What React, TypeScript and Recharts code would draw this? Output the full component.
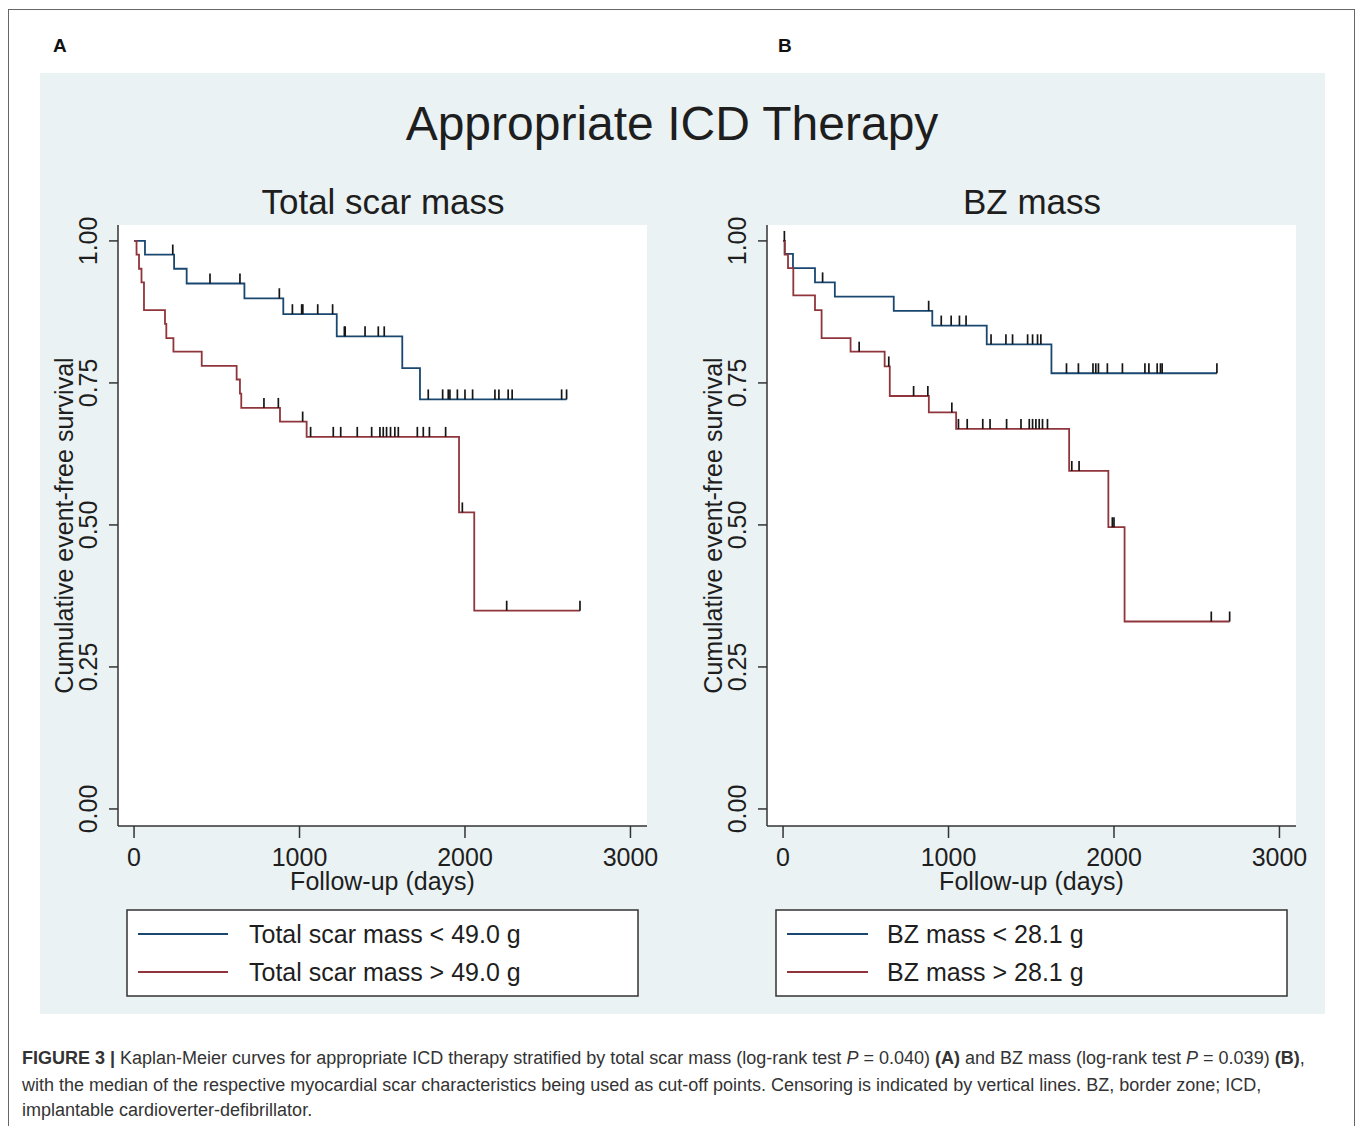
import React from "react";
import { ComposedChart, Line, Scatter, XAxis, YAxis, CartesianGrid } from "recharts";

const FONT = '"Liberation Sans", Arial, Helvetica, sans-serif';
const NAVY = "#1a476f";
const MAROON = "#90353b";
const INK = "#1e1e1e";

const xTicks = [0, 1000, 2000, 3000];
const yTicks = [0, 0.25, 0.5, 0.75, 1];

// Panel A - total scar mass
const scarLowTimes = [0, 66, 242, 318, 667, 902, 1225, 1621, 1728];
const scarLowSurv = [1.0, 0.976, 0.951, 0.925, 0.899, 0.871, 0.832, 0.776, 0.721];
const scarLowCensor = [234, 459, 640, 878, 957, 1013, 1020, 1110, 1200, 1271, 1276, 1396, 1476, 1512, 1778, 1865, 1899, 1909, 1954, 2000, 2046, 2181, 2205, 2261, 2285, 2584, 2614];

const scarHighTimes = [0, 15, 30, 45, 60, 187, 195, 238, 409, 620, 640, 648, 882, 1043, 1964, 2056];
const scarHighSurv = [1.0, 0.976, 0.951, 0.927, 0.878, 0.854, 0.829, 0.805, 0.78, 0.756, 0.731, 0.706, 0.682, 0.655, 0.522, 0.349];
const scarHighCensor = [785, 872, 1019, 1067, 1204, 1249, 1349, 1436, 1486, 1506, 1526, 1550, 1576, 1597, 1712, 1748, 1785, 1883, 1984, 2252, 2695];

// Panel B - BZ mass
const bzLowTimes = [0, 10, 60, 193, 313, 669, 902, 1231, 1622];
const bzLowSurv = [1.0, 0.977, 0.952, 0.927, 0.902, 0.877, 0.851, 0.818, 0.767];
const bzLowCensor = [8, 239, 880, 956, 1016, 1066, 1106, 1257, 1347, 1387, 1478, 1508, 1538, 1558, 1713, 1785, 1873, 1890, 1906, 1960, 2051, 2187, 2211, 2261, 2281, 2291, 2622];

const bzHighTimes = [0, 10, 30, 62, 193, 233, 408, 614, 645, 881, 1046, 1729, 1966, 2064];
const bzHighSurv = [1.0, 0.976, 0.952, 0.904, 0.878, 0.829, 0.805, 0.779, 0.727, 0.698, 0.669, 0.595, 0.496, 0.33];
const bzHighCensor = [460, 639, 789, 875, 1020, 1060, 1113, 1207, 1251, 1351, 1438, 1488, 1508, 1528, 1548, 1568, 1598, 1745, 1789, 1990, 2000, 2588, 2699];

// KM estimate at time t (value of the step function)
function survAt(times: number[], surv: number[], t: number) {
  let s = surv[0];
  for (let i = 0; i < times.length; i++) if (times[i] <= t) s = surv[i];
  return s;
}

function stepData(times: number[], surv: number[], censor: number[]) {
  const pts = times.map((t, i) => ({ t, s: surv[i] }));
  const end = Math.max(times[times.length - 1], ...censor);
  pts.push({ t: end, s: surv[surv.length - 1] });
  return pts;
}

function censorData(times: number[], surv: number[], censor: number[]) {
  return censor.map((t) => ({ t, s: survAt(times, surv, t) }));
}

const CensorMark = (props: any) => {
  const { cx, cy } = props;
  if (cx == null || cy == null) return null;
  return <line x1={cx} x2={cx} y1={cy} y2={cy - 10} stroke="#161616" strokeWidth={1.7} />;
};

const YTick = ({ x, y, payload }: any) => (
  <text
    x={x}
    y={y}
    transform={`rotate(-90 ${x} ${y})`}
    textAnchor="middle"
    dominantBaseline="central"
    fontSize={25}
    fontFamily={FONT}
    fill={INK}
  >
    {Number(payload.value).toFixed(2)}
  </text>
);

const YTitle = (props: any) => {
  const vb = props.viewBox || {};
  const x = vb.x + 24;
  const y = vb.y + vb.height / 2;
  return (
    <text
      x={x}
      y={y}
      transform={`rotate(-90 ${x} ${y})`}
      textAnchor="middle"
      dominantBaseline="central"
      fontSize={25}
      fontFamily={FONT}
      fill={INK}
    >
      Cumulative event-free survival
    </text>
  );
};

interface KMProps {
  left: number;
  lowTimes: number[];
  lowSurv: number[];
  lowCensor: number[];
  highTimes: number[];
  highSurv: number[];
  highCensor: number[];
}

function KMPanel(p: KMProps) {
  const low = stepData(p.lowTimes, p.lowSurv, p.lowCensor);
  const high = stepData(p.highTimes, p.highSurv, p.highCensor);
  const lowC = censorData(p.lowTimes, p.lowSurv, p.lowCensor);
  const highC = censorData(p.highTimes, p.highSurv, p.highCensor);
  return (
    <div style={{ position: "absolute", left: p.left, top: 160 }}>
      <ComposedChart width={640} height={740} margin={{ top: 65, right: 33, left: 0, bottom: 0 }}>
        <CartesianGrid horizontal={false} vertical={false} fill="#ffffff" />
        <XAxis
          dataKey="t"
          type="number"
          domain={[-97, 3100]}
          ticks={xTicks}
          allowDataOverflow
          height={74}
          tickSize={12}
          tickMargin={10}
          axisLine={{ stroke: "#333", strokeWidth: 1.5 }}
          tickLine={{ stroke: "#333", strokeWidth: 1.5 }}
          tick={{ fontSize: 25, fontFamily: FONT, fill: INK }}
          label={{ value: "Follow-up (days)", position: "insideBottom", offset: 10, fontSize: 25, fontFamily: FONT, fill: INK }}
        />
        <YAxis
          dataKey="s"
          type="number"
          domain={[-0.03, 1.028]}
          ticks={yTicks}
          allowDataOverflow
          width={78}
          tickSize={9}
          tickMargin={21}
          axisLine={{ stroke: "#333", strokeWidth: 1.5 }}
          tickLine={{ stroke: "#333", strokeWidth: 1.5 }}
          tick={<YTick />}
          label={<YTitle />}
        />
        <Line data={low} dataKey="s" type="stepAfter" stroke={NAVY} strokeWidth={1.8} dot={false} isAnimationActive={false} />
        <Line data={high} dataKey="s" type="stepAfter" stroke={MAROON} strokeWidth={1.8} dot={false} isAnimationActive={false} />
        <Scatter data={lowC} shape={(s: any) => <CensorMark {...s} />} isAnimationActive={false} />
        <Scatter data={highC} shape={(s: any) => <CensorMark {...s} />} isAnimationActive={false} />
      </ComposedChart>
    </div>
  );
}

function KMLegend({ left, lineLen, textX, labels }: { left: number; lineLen: number; textX: number; labels: string[] }) {
  return (
    <svg style={{ position: "absolute", left, top: 909 }} width={514} height={88}>
      <rect x={1} y={1} width={511} height={86} fill="#ffffff" stroke="#333" strokeWidth={1.5} />
      <line x1={12} x2={12 + lineLen} y1={25} y2={25} stroke={NAVY} strokeWidth={1.8} />
      <line x1={12} x2={12 + lineLen} y1={63} y2={63} stroke={MAROON} strokeWidth={1.8} />
      <text x={textX} y={34} fontSize={25} fontFamily={FONT} fill={INK}>{labels[0]}</text>
      <text x={textX} y={72} fontSize={25} fontFamily={FONT} fill={INK}>{labels[1]}</text>
    </svg>
  );
}

export default function App() {
  return (
    <div style={{ position: "absolute", left: 0, top: 0, width: 1358, height: 1126, background: "#fff", overflow: "hidden" }}>
      <div style={{ position: "absolute", left: 8, top: 9, width: 1347, height: 1300, border: "1.5px solid #666", boxSizing: "border-box" }} />
      <div style={{ position: "absolute", left: 40, top: 73, width: 1285, height: 941, background: "#eaf2f3" }} />
      <svg style={{ position: "absolute", left: 0, top: 0 }} width={1358} height={1126}>
        <g fontFamily={FONT} fill="#111">
          <text x={53} y={52} fontSize={19} fontWeight="bold">A</text>
          <text x={778} y={52} fontSize={19} fontWeight="bold">B</text>
          <text x={672} y={140} fontSize={48} textAnchor="middle" fill={INK}>Appropriate ICD Therapy</text>
          <text x={383} y={214} fontSize={35} textAnchor="middle" fill={INK}>Total scar mass</text>
          <text x={1032} y={214} fontSize={35} textAnchor="middle" fill={INK}>BZ mass</text>
        </g>
        <g fontFamily={FONT} fontSize={18} fill="#333">
          <text x={22} y={1064}>
            <tspan fontWeight="bold">FIGURE 3 | </tspan>
            Kaplan-Meier curves for appropriate ICD therapy stratified by total scar mass (log-rank test{" "}
            <tspan fontStyle="italic">P</tspan> = 0.040) <tspan fontWeight="bold">(A)</tspan> and BZ mass (log-rank test{" "}
            <tspan fontStyle="italic">P</tspan> = 0.039) <tspan fontWeight="bold">(B)</tspan>,
          </text>
          <text x={22} y={1091}>
            with the median of the respective myocardial scar characteristics being used as cut-off points. Censoring is indicated by vertical lines. BZ, border zone; ICD,
          </text>
          <text x={22} y={1116}>implantable cardioverter-defibrillator.</text>
        </g>
      </svg>
      <KMPanel
        left={40}
        lowTimes={scarLowTimes}
        lowSurv={scarLowSurv}
        lowCensor={scarLowCensor}
        highTimes={scarHighTimes}
        highSurv={scarHighSurv}
        highCensor={scarHighCensor}
      />
      <KMPanel
        left={689}
        lowTimes={bzLowTimes}
        lowSurv={bzLowSurv}
        lowCensor={bzLowCensor}
        highTimes={bzHighTimes}
        highSurv={bzHighSurv}
        highCensor={bzHighCensor}
      />
      <KMLegend left={126} lineLen={90} textX={123} labels={["Total scar mass < 49.0 g", "Total scar mass > 49.0 g"]} />
      <KMLegend left={775} lineLen={81} textX={112} labels={["BZ mass < 28.1 g", "BZ mass > 28.1 g"]} />
    </div>
  );
}
